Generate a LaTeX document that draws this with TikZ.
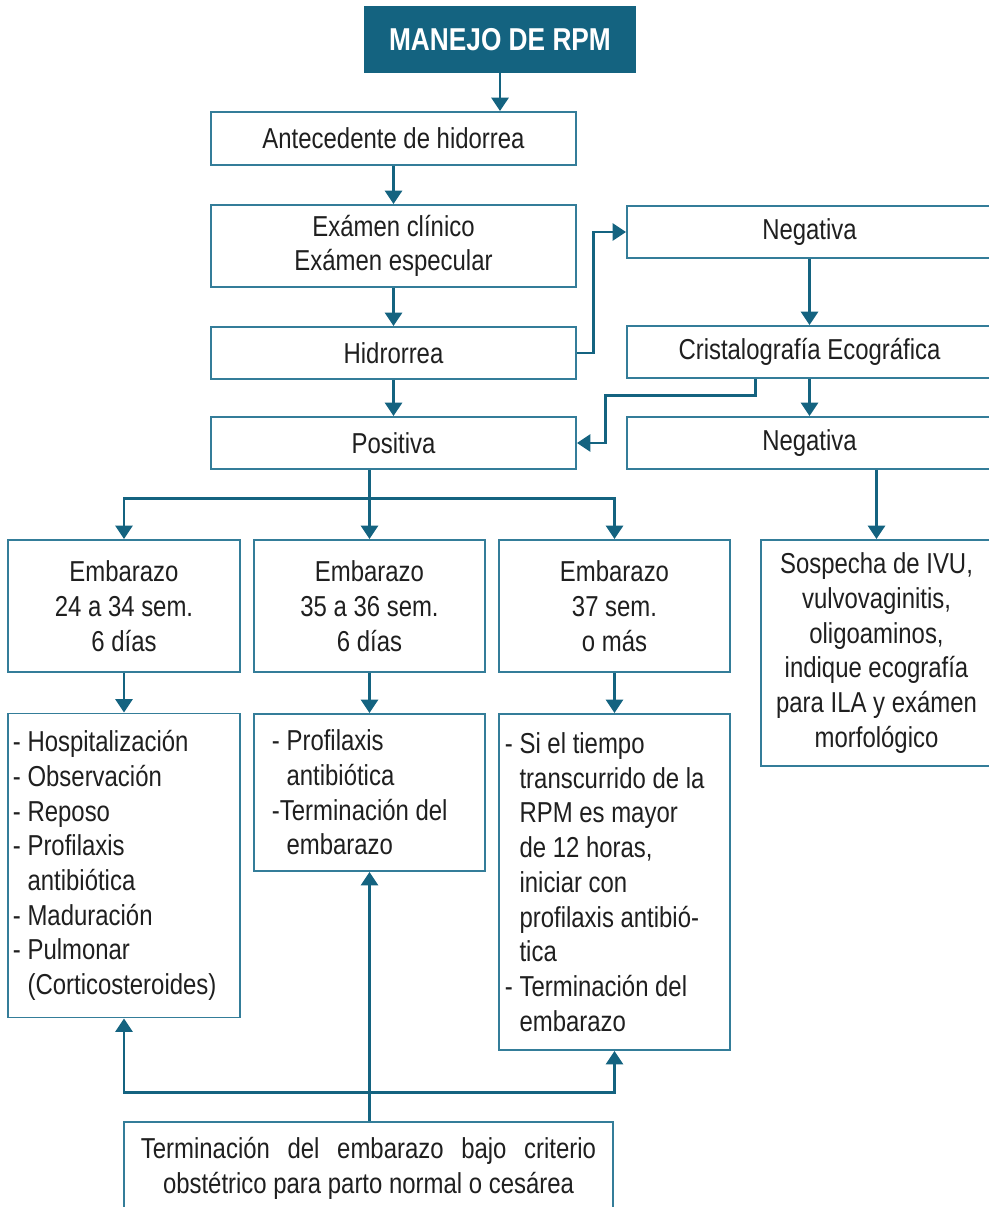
\documentclass[tikz,border=0pt]{standalone}
\usepackage{fontspec}
\setmainfont[FakeStretch=0.83]{Liberation Sans}
\usetikzlibrary{arrows.meta}
\definecolor{azulrpm}{RGB}{20,99,128}
\definecolor{bordecaja}{RGB}{52,125,153}
\newcommand{\sangria}{\hphantom{-\ }}
\tikzset{
	caja/.style={draw=bordecaja, line width=1.3pt, fill=white, align=center, inner sep=0pt,
		text=black!88, font=\fontsize{20.5}{24.7}\selectfont},
	titulo/.style={fill=azulrpm, text=white, inner sep=0pt, font=\bfseries\fontsize{22.5}{26}\selectfont},
	lista/.style={caja, align=flush left},
	flecha/.style={draw=azulrpm, line width=2.1pt, -{Triangle[width=12pt,length=9.5pt]}},
	linea/.style={draw=azulrpm, line width=2.1pt}
}
\begin{document}
\begin{tikzpicture}[x=0.025cm, y=-0.025cm]
	\useasboundingbox (0,0) rectangle (988,1207);
	
	\node[titulo, minimum width=6.8cm, minimum height=1.675cm] (titulo) at (500,39.5) {MANEJO DE RPM};
	\node[caja, minimum width=9.125cm, minimum height=1.325cm] (antecedente) at (393.5,138.5) {Antecedente de hidorrea};
	\node[caja, minimum width=9.125cm, minimum height=2.05cm] (examen) at (393.5,246) {Exámen clínico\\Exámen especular};
	\node[caja, minimum width=9.125cm, minimum height=1.3cm] (hidrorrea) at (393.5,353) {Hidrorrea};
	\node[caja, minimum width=9.125cm, minimum height=1.3cm] (positiva) at (393.5,443) {Positiva};
	\node[caja, minimum width=9.125cm, minimum height=1.3cm] (negativa) at (809.5,232) {Negativa};
	\node[caja, minimum width=9.125cm, minimum height=1.3cm] (cristalo) at (809.5,352) {Cristalografía Ecográfica};
	\node[caja, minimum width=9.125cm, minimum height=1.3cm] (negativab) at (809.5,443) {Negativa};
	
	\node[caja, minimum width=5.8cm, minimum height=3.3cm] (emb1) at (124,606) {Embarazo\\24 a 34 sem.\\6 días};
	\node[caja, minimum width=5.775cm, minimum height=3.3cm] (emb2) at (369.5,606) {Embarazo\\35 a 36 sem.\\6 días};
	\node[caja, minimum width=5.775cm, minimum height=3.3cm] (emb3) at (614.5,606) {Embarazo\\37 sem.\\o más};
	\node[caja, minimum width=5.775cm, minimum height=5.65cm] (sospecha) at (876.5,653)
		{Sospecha de IVU,\\vulvovaginitis,\\oligoaminos,\\indique ecografía\\para ILA y exámen\\morfológico};
	
	\node[lista, inner xsep=0.125cm, text width=5.55cm, minimum height=7.6cm] (man1) at (124,865.5)
		{- Hospitalización\\- Observación\\- Reposo\\- Profilaxis\\\sangria antibiótica\\- Maduración\\- Pulmonar\\\sangria(Corticosteroides)};
	\node[lista, inner xsep=0.45cm, text width=4.875cm, minimum height=3.925cm] (man2) at (369.5,792.5)
		{- Profilaxis\\\sangria antibiótica\\-Terminación del\\\sangria embarazo};
	\node[lista, inner xsep=0.15cm, text width=5.475cm, minimum height=8.4cm] (man3) at (614.5,882)
		{- Si el tiempo\\\sangria transcurrido de la\\\sangria RPM es mayor\\\sangria de 12 horas,\\\sangria iniciar con\\\sangria profilaxis antibió-\\\sangria tica\\- Terminación del\\\sangria embarazo};
	
	\node[caja, align=flush center, inner xsep=0.425cm, text width=11.375cm, minimum height=2.325cm] (termino) at (368.5,1168.5)
		{\makebox[11.375cm]{Terminación\hfill del\hfill embarazo\hfill bajo\hfill criterio}\\obstétrico para parto normal o cesárea};
	
	\draw[flecha] (titulo.south) -- (titulo.south |- antecedente.north);
	\draw[flecha] (antecedente) -- (examen);
	\draw[flecha] (examen) -- (hidrorrea);
	\draw[flecha] (hidrorrea) -- (positiva);
	\draw[flecha] (hidrorrea.east) -- ++(17,0) |- (negativa.west);
	\draw[flecha] (negativa) -- (cristalo);
	\draw[flecha] (cristalo) -- (negativab);
	\draw[flecha] ([xshift=-1.35cm]cristalo.south) -- ++(0,17) -- ++(-150,0) |- (positiva.east);
	
	\draw[flecha] (emb2 |- positiva.south) -- ++(0,29) coordinate (reparto) -- (emb2.north);
	\draw[flecha] (reparto) -| (emb1.north);
	\draw[flecha] (reparto) -| (emb3.north);
	\draw[flecha] (emb1) -- (man1);
	\draw[flecha] (emb2) -- (man2);
	\draw[flecha] (emb3) -- (man3);
	\draw[flecha] (sospecha |- negativab.south) -- (sospecha.north);
	
	\draw[flecha] (man2 |- termino.north) -- ++(0,-29) coordinate (union) -- (man2.south);
	\draw[flecha] (union) -| (man1.south);
	\draw[flecha] (union) -| (man3.south);
\end{tikzpicture}
\end{document}
